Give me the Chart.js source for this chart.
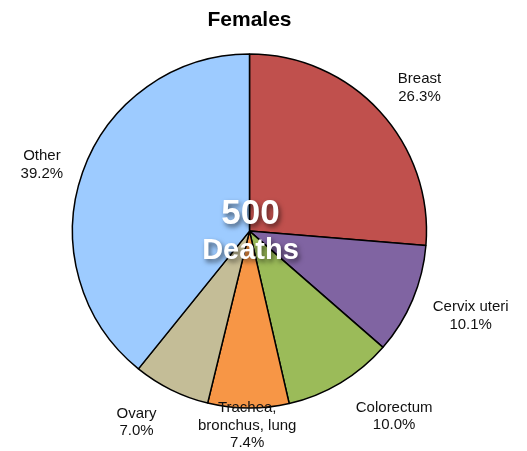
<!DOCTYPE html>
<html>
<head>
<meta charset="utf-8">
<script src="https://cdn.jsdelivr.net/npm/chart.js@4"></script>
<style>
  html, body { margin: 0; padding: 0; background: #fff; }
  #wrap { width: 527px; height: 451px; }
</style>
</head>
<body>
<div id="wrap"><canvas id="pie_chart"></canvas></div>
<script>
// Chart data
var CAUSES = ['Breast', 'Cervix uteri', 'Colorectum', 'Trachea,\nbronchus, lung', 'Ovary', 'Other'];
var SHARES = [26.3, 10.1, 10.0, 7.4, 7.0, 39.2];
var COLORS = ['#C0504D', '#8064A2', '#9BBB59', '#F79646', '#C4BD97', '#9DCBFF'];
var TOTAL_DEATHS = '500';
var TOTAL_LABEL = 'Deaths';
var TITLE = 'Females';

// Nudges for the outside labels (same order as CAUSES)
var LABEL_NUDGE = [[19, -4], [32, 5], [39, 9], [-1, -11], [-22, 7], [-14, 2]];

var sliceLabels = {
	id: 'sliceLabels',
	afterDatasetsDraw: function(chart) {
		var ctx = chart.ctx;
		var arcs = chart.getDatasetMeta(0).data;
		ctx.save();
		ctx.font = '15px "Liberation Sans", Arial, sans-serif';
		ctx.fillStyle = '#111';
		ctx.textAlign = 'center';
		ctx.textBaseline = 'middle';
		arcs.forEach(function(arc, i) {
			var mid = (arc.startAngle + arc.endAngle) / 2;
			var r = arc.outerRadius * 1.16;
			var x = arc.x + Math.cos(mid) * r + LABEL_NUDGE[i][0];
			var y = arc.y + Math.sin(mid) * r + LABEL_NUDGE[i][1];
			var lines = CAUSES[i].split('\n').concat([SHARES[i].toFixed(1) + '%']);
			var lh = 17.5;
			var y0 = y - (lines.length - 1) * lh / 2;
			for (var j = 0; j < lines.length; j++) {
				ctx.fillText(lines[j], x, y0 + j * lh);
			}
		});

		// Total in the middle
		var cx = arcs[0].x, cy = arcs[0].y;
		ctx.fillStyle = '#fff';
		ctx.shadowColor = 'rgba(0,0,0,0.55)';
		ctx.shadowBlur = 5;
		ctx.shadowOffsetX = 2;
		ctx.shadowOffsetY = 3;
		ctx.font = 'bold 35px "Liberation Sans", Arial, sans-serif';
		ctx.fillText(TOTAL_DEATHS, cx + 1, cy - 17);
		ctx.font = 'bold 29px "Liberation Sans", Arial, sans-serif';
		ctx.fillText(TOTAL_LABEL, cx + 1, cy + 20);
		ctx.restore();
	}
};

new Chart(document.getElementById('pie_chart'), {
	type: 'pie',
	data: {
		labels: CAUSES,
		datasets: [{
			data: SHARES,
			backgroundColor: COLORS,
			borderColor: '#000',
			borderWidth: 1.5,
			hoverOffset: 0,
			radius: 177
		}]
	},
	options: {
		responsive: true,
		maintainAspectRatio: false,
		animation: false,
		layout: { padding: { left: 10, right: 38, top: 0, bottom: 27 } },
		plugins: {
			legend: { display: false },
			tooltip: { enabled: false },
			title: {
				display: true,
				text: TITLE,
				color: '#000',
				font: { family: '"Liberation Sans", Arial, sans-serif', size: 21, weight: 'bold' },
				padding: { top: 8, bottom: 5 }
			}
		}
	},
	plugins: [sliceLabels]
});
</script>
</body>
</html>
